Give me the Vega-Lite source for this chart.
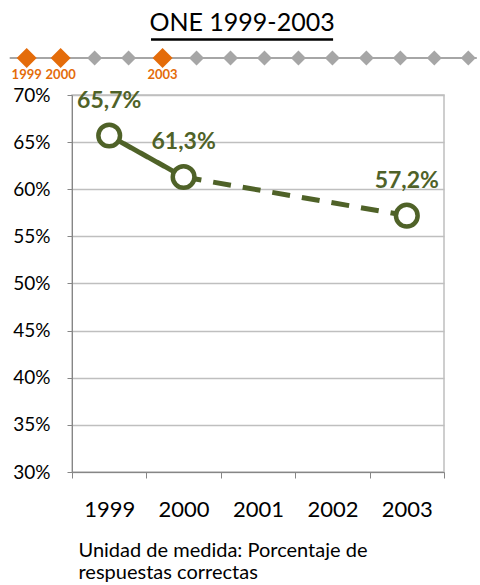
{
  "$schema": "https://vega.github.io/schema/vega-lite/v6.json",
  "width": 372,
  "height": 377,
  "autosize": "none",
  "padding": {"left": 72, "top": 95, "right": 36, "bottom": 113},
  "background": "white",
  "config": {"font": "Lato", "view": {"stroke": "#BFBFBF", "strokeWidth": 1.5}},
  "datasets": {
    "points": [
      {"year": 1999, "value": 0.657, "label": "65,7%"},
      {"year": 2000, "value": 0.613, "label": "61,3%"},
      {"year": 2003, "value": 0.572, "label": "57,2%"}
    ],
    "lines": [
      {"year": 1999, "value": 0.657, "segment": "medido"},
      {"year": 2000, "value": 0.613, "segment": "medido"},
      {"year": 2000, "value": 0.613, "segment": "sin medición"},
      {"year": 2003, "value": 0.572, "segment": "sin medición"}
    ],
    "timeline": [
      {"year": 1999, "state": "sí"}, {"year": 2000, "state": "sí"},
      {"year": 2001, "state": "no"}, {"year": 2002, "state": "no"},
      {"year": 2003, "state": "sí"}, {"year": 2004, "state": "no"},
      {"year": 2005, "state": "no"}, {"year": 2006, "state": "no"},
      {"year": 2007, "state": "no"}, {"year": 2008, "state": "no"},
      {"year": 2009, "state": "no"}, {"year": 2010, "state": "no"},
      {"year": 2011, "state": "no"}, {"year": 2012, "state": "no"}
    ]
  },
  "layer": [
    {
      "layer": [
        {
          "data": {"name": "lines"},
          "mark": {"type": "line", "color": "#4F6228", "strokeWidth": 5},
          "encoding": {
            "x": {
              "field": "year", "type": "quantitative",
              "scale": {"domain": [1998.5, 2003.5], "nice": false, "zero": false},
              "axis": {
                "values": [1998.5, 1999.5, 2000.5, 2001.5, 2002.5, 2003.5],
                "labelExpr": "datum.value < 2003 ? format(datum.value + 0.5, 'd') : ''",
                "labelOffset": 37.2,
                "labelFlush": false,
                "labelOverlap": false,
                "labelFontSize": 22,
                "labelColor": "#000000",
                "labelPadding": 21,
                "tickSize": 6,
                "tickColor": "#868686",
                "domainColor": "#868686",
                "grid": false,
                "title": ["Unidad de medida: Porcentaje de", "respuestas correctas"],
                "titleAnchor": "start",
                "titleAlign": "left",
                "titleBaseline": "alphabetic",
                "titleFontSize": 20,
                "titleFontWeight": "normal",
                "titleColor": "#000000",
                "titleLineHeight": 22,
                "titleX": 6,
                "titleY": 84
              }
            },
            "y": {
              "field": "value", "type": "quantitative",
              "scale": {"domain": [0.3, 0.7], "nice": false, "zero": false},
              "axis": {
                "values": [0.3, 0.35, 0.4, 0.45, 0.5, 0.55, 0.6, 0.65, 0.7],
                "format": ".0%",
                "labelFontSize": 19,
                "labelColor": "#000000",
                "labelPadding": 17,
                "tickSize": 5,
                "tickColor": "#868686",
                "domainColor": "#868686",
                "gridColor": "#BFBFBF",
                "gridWidth": 1.5,
                "title": null
              }
            },
            "strokeDash": {
              "field": "segment", "type": "nominal",
              "scale": {"domain": ["medido", "sin medición"], "range": [[1, 0], [18, 12]]},
              "legend": null
            }
          }
        },
        {
          "data": {"name": "points"},
          "mark": {"type": "point", "shape": "circle", "filled": true, "fill": "white", "stroke": "#4F6228", "strokeWidth": 4.5, "size": 470, "opacity": 1},
          "encoding": {
            "x": {"field": "year", "type": "quantitative", "scale": {"domain": [1998.5, 2003.5], "nice": false, "zero": false}},
            "y": {"field": "value", "type": "quantitative", "scale": {"domain": [0.3, 0.7], "nice": false, "zero": false}}
          }
        },
        {
          "data": {"name": "points"},
          "mark": {"type": "text", "color": "#4F6228", "fontSize": 23, "fontWeight": "bold", "dy": -35, "baseline": "middle"},
          "encoding": {
            "x": {"field": "year", "type": "quantitative", "scale": {"domain": [1998.5, 2003.5], "nice": false, "zero": false}},
            "y": {"field": "value", "type": "quantitative", "scale": {"domain": [0.3, 0.7], "nice": false, "zero": false}},
            "text": {"field": "label", "type": "nominal"}
          }
        }
      ]
    },
    {
      "layer": [
        {
          "data": {"values": [{"line": "eje"}]},
          "mark": {"type": "rule", "color": "#A6A6A6", "strokeWidth": 2},
          "encoding": {
            "x": {"datum": 1998.5, "type": "quantitative", "scale": {"domain": [2000.334, 2011.285], "nice": false, "zero": false}, "axis": null},
            "x2": {"datum": 2012.25},
            "y": {"datum": 10.981, "type": "quantitative", "scale": {"domain": [0, 10], "nice": false, "zero": false}, "axis": null}
          }
        },
        {
          "data": {"name": "timeline"},
          "mark": {"type": "point", "shape": "diamond", "filled": true, "opacity": 1},
          "encoding": {
            "x": {"field": "year", "type": "quantitative", "scale": {"domain": [2000.334, 2011.285], "nice": false, "zero": false}, "axis": null},
            "y": {"datum": 10.981, "type": "quantitative", "scale": {"domain": [0, 10], "nice": false, "zero": false}, "axis": null},
            "color": {"field": "state", "type": "nominal", "scale": {"domain": ["sí", "no"], "range": ["#E46C0A", "#A6A6A6"]}, "legend": null},
            "size": {"field": "state", "type": "ordinal", "scale": {"domain": ["sí", "no"], "range": [400, 225]}, "legend": null}
          }
        },
        {
          "data": {"name": "timeline"},
          "transform": [{"filter": "datum.state == 'sí'"}],
          "mark": {"type": "text", "color": "#E46C0A", "fontSize": 13, "fontWeight": "bold", "dy": 17, "baseline": "middle"},
          "encoding": {
            "x": {"field": "year", "type": "quantitative", "scale": {"domain": [2000.334, 2011.285], "nice": false, "zero": false}, "axis": null},
            "y": {"datum": 10.981, "type": "quantitative", "scale": {"domain": [0, 10], "nice": false, "zero": false}, "axis": null},
            "text": {"field": "year", "type": "quantitative", "format": "d"}
          }
        },
        {
          "data": {"values": [{"title": "ONE 1999-2003"}]},
          "mark": {"type": "text", "color": "#000000", "fontSize": 25, "baseline": "middle", "align": "center"},
          "encoding": {
            "x": {"datum": 2005.339, "type": "quantitative", "scale": {"domain": [2000.334, 2011.285], "nice": false, "zero": false}, "axis": null},
            "y": {"datum": 11.9, "type": "quantitative", "scale": {"domain": [0, 10], "nice": false, "zero": false}, "axis": null},
            "text": {"field": "title", "type": "nominal"}
          }
        },
        {
          "data": {"values": [{"line": "subrayado"}]},
          "mark": {"type": "rule", "color": "#000000", "strokeWidth": 2.5},
          "encoding": {
            "x": {"datum": 2002.66, "type": "quantitative", "scale": {"domain": [2000.334, 2011.285], "nice": false, "zero": false}, "axis": null},
            "x2": {"datum": 2008.02},
            "y": {"datum": 11.472, "type": "quantitative", "scale": {"domain": [0, 10], "nice": false, "zero": false}, "axis": null}
          }
        }
      ]
    }
  ],
  "resolve": {"scale": {"x": "independent", "y": "independent"}}
}
